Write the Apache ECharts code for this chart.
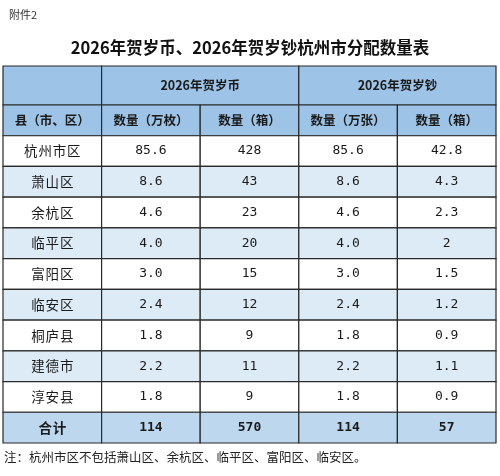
<!DOCTYPE html>
<html>
<head>
<meta charset="utf-8">
<script src="https://cdn.jsdelivr.net/npm/echarts@6/dist/echarts.min.js"></script>
<style>html,body{margin:0;padding:0;background:#fff}#chart{width:500px;height:476px}</style>
</head>
<body>
<div id="chart"></div>
<script>
var title = '2026年贺岁币、2026年贺岁钞杭州市分配数量表';
var groupHeaders = ['2026年贺岁币', '2026年贺岁钞'];
var colHeaders = ['县（市、区）', '数量（万枚）', '数量（箱）', '数量（万张）', '数量（箱）'];
var districts = ['杭州市区', '萧山区', '余杭区', '临平区', '富阳区', '临安区', '桐庐县', '建德市', '淳安县'];
var coinWan = ['85.6', '8.6', '4.6', '4.0', '3.0', '2.4', '1.8', '2.2', '1.8'];
var coinBox = ['428', '43', '23', '20', '15', '12', '9', '11', '9'];
var noteWan = ['85.6', '8.6', '4.6', '4.0', '3.0', '2.4', '1.8', '2.2', '1.8'];
var noteBox = ['42.8', '4.3', '2.3', '2', '1.5', '1.2', '0.9', '1.1', '0.9'];
var totals = ['合计', '114', '570', '114', '57'];

// row edges in table units: header1 is taller
var rowEdges = [0, 1.27];
for (var i = 0; i < 11; i++) rowEdges.push(rowEdges[rowEdges.length - 1] + 1);

var cells = [];
// [col0, col1, row, text, kind]
cells.push([0, 1, 0, '', 'head']);
cells.push([1, 3, 0, groupHeaders[0], 'head']);
cells.push([3, 5, 0, groupHeaders[1], 'head']);
colHeaders.forEach(function (t, c) { cells.push([c, c + 1, 1, t, 'head']); });
districts.forEach(function (d, r) {
  var kind = r % 2 === 1 ? 'alt' : 'plain';
  [d, coinWan[r], coinBox[r], noteWan[r], noteBox[r]].forEach(function (t, c) {
    cells.push([c, c + 1, r + 2, t, kind]);
  });
});
totals.forEach(function (t, c) { cells.push([c, c + 1, 11, t, 'total']); });

var fills = { head: '#9dc3e6', alt: '#ddebf7', plain: '#ffffff', total: '#bdd7ee' };

var chart = echarts.init(document.getElementById('chart'));
chart.setOption({
  animation: false,
  title: [
    { text: '附件2', left: 4, top: 4, textStyle: { fontSize: 11, fontWeight: 'normal', color: '#333', fontFamily: 'Noto Sans CJK SC' } },
    { text: title, left: 'center', top: 34, textStyle: { fontSize: 16.5, fontWeight: 'bold', color: '#111', fontFamily: 'Noto Sans CJK SC' } }
  ],
  graphic: [{
    type: 'text', left: 4, top: 451,
    style: { text: '注：杭州市区不包括萧山区、余杭区、临平区、富阳区、临安区。', fontSize: 12.5, fill: '#222', fontFamily: 'Noto Sans CJK SC' }
  }],
  grid: { left: 3, right: 4, top: 66, bottom: 33 },
  xAxis: { type: 'value', min: 0, max: 5, show: false },
  yAxis: { type: 'value', min: 0, max: rowEdges[12], inverse: true, show: false },
  series: [{
    type: 'custom',
    data: cells,
    encode: { x: [0, 1], y: 2 },
    renderItem: function (params, api) {
      var c0 = api.value(0), c1 = api.value(1), r = api.value(2);
      var p0 = api.coord([c0, rowEdges[r]]);
      var p1 = api.coord([c1, rowEdges[r + 1]]);
      var d = cells[params.dataIndex];
      var kind = d[4];
      var bold = kind === 'head' || kind === 'total';
      var t = d[3];
      var isNum = /^[0-9.]+$/.test(t);
      var txt = t;
      if (!isNum && kind !== 'head') txt = t.split('').join('\u200a');
      return {
        type: 'group',
        children: [{
          type: 'rect',
          shape: { x: p0[0], y: p0[1], width: p1[0] - p0[0], height: p1[1] - p0[1] },
          style: { fill: fills[kind], stroke: '#2a2a2a', lineWidth: 1.2 }
        }, {
          type: 'text',
          style: {
            text: txt,
            x: (p0[0] + p1[0]) / 2, y: (p0[1] + p1[1]) / 2,
            align: 'center', verticalAlign: 'middle',
            fontSize: isNum ? 13 : (kind === 'head' ? 12.5 : 13.5),
            fontWeight: bold ? 'bold' : 'normal',
            fontFamily: isNum ? 'DejaVu Sans Mono' : 'Noto Sans CJK SC',
            fill: '#1a1a1a'
          }
        }]
      };
    }
  }]
});
</script>
</body>
</html>
